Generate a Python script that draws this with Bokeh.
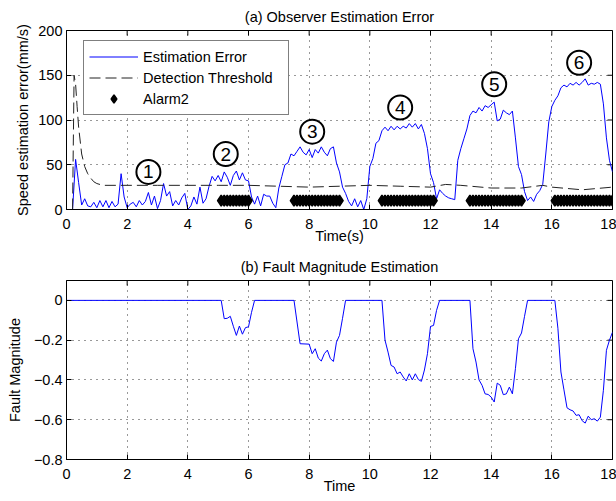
import numpy as np
from bokeh.plotting import figure
from bokeh.layouts import column
from bokeh.models import FixedTicker, CustomJSTickFormatter
from bokeh.embed import file_html
from bokeh.resources import INLINE
from bokeh.core.properties import value

FONT = "Liberation Sans"
FS = "14.5px"

# ---------------- data: (a) observer estimation error ----------------
err_t = [round(0.2 + 0.1 * i, 1) for i in range(179)]   # 0.2 .. 18.0 s sampling grid
err_v = [0, 56, 30, 5, 12, 4, 3, 8,
         2, 10, 3, 10, 2, 9, 3, 6, 40, 14,
         2, 6, 8, 3, 10, 5, 9, 19, 5, 15,
         1, 10, 29, 15, 20, 4, 10, 5, 13, 18,
         0, 4, 14, 6, 25, 7, 12, 26, 37, 32,
         38, 31, 42, 36, 27, 38, 43, 33, 41, 33,
         32, 14, 6, 15, 4, 17, 15, 15, 7, 2,
         24, 37, 50, 52, 62, 60, 65, 70, 64, 61,
         67, 58, 67, 63, 70, 64, 60, 68, 70, 52,
         42, 25, 18, 9, 4, 12, 3, 10, 0, 12,
         48, 57, 74, 77, 88, 92, 88, 93, 89, 93,
         90, 93, 91, 96, 92, 96, 90, 95, 85, 68,
         40, 30, 12, 22, 18, 15, 13, 12, 11, 55,
         68, 79, 90, 105, 110, 108, 114, 110, 116, 114,
         117, 120, 99, 101, 111, 108, 106, 110, 80, 48,
         39, 20, 10, 14, 9, 17, 21, 28, 62, 98,
         115, 122, 127, 136, 139, 137, 141, 139, 142, 139,
         142, 146, 139, 141, 140, 142, 140, 118, 80, 55,
         42]

thr_t = [0.2, 0.25, 0.3, 0.35, 0.4, 0.5, 0.6, 0.7, 0.8, 0.9, 1.0, 1.2, 1.5, 2.0, 3.0,
         4.0, 5.0, 6.0, 7.0, 8.0, 9.0, 10.0, 11.0, 12.0, 12.5, 13.0, 14.0, 15.0, 15.7,
         16.0, 17.0, 18.0]
thr_v = [0, 150, 140, 115, 92, 62, 48, 40, 35, 31, 29, 27, 27, 27, 27,
         27, 27, 27, 26, 25, 26, 27, 26, 25, 28, 27, 24, 24, 27,
         25, 22, 25]

alarm_t = ([round(5.1 + 0.1 * i, 1) for i in range(10)] +
           [round(7.5 + 0.1 * i, 1) for i in range(16)] +
           [round(10.4 + 0.1 * i, 1) for i in range(18)] +
           [round(13.3 + 0.1 * i, 1) for i in range(18)] +
           [round(16.1 + 0.1 * i, 1) for i in range(20)])
alarm_level = 10

ann_t = [2.7, 5.25, 8.1, 11.0, 14.1, 16.9]
ann_v = [42, 62, 87, 114, 140, 164]
ann_labels = ["1", "2", "3", "4", "5", "6"]

# ---------------- data: (b) fault magnitude estimation ----------------
fm_t = [0, 5.1, 5.2, 5.3, 5.4, 5.5, 5.6, 5.7, 5.8, 5.9, 6.0, 6.1, 6.2,
        7.5, 7.7, 8.0, 8.1, 8.2, 8.3, 8.4, 8.5, 8.6, 8.7, 8.8, 8.9, 9.0, 9.1, 9.2,
        10.4, 10.5, 10.6, 10.7, 10.8, 10.9, 11.0, 11.1, 11.2, 11.3, 11.4, 11.5, 11.6,
        11.7, 11.8, 11.9, 12.0, 12.1, 12.2, 12.3,
        13.3, 13.4, 13.5, 13.6, 13.7, 13.8, 13.9, 14.0, 14.1, 14.2, 14.3, 14.4, 14.5,
        14.6, 14.7, 14.8, 14.9, 15.0, 15.1, 15.2,
        16.1, 16.2, 16.3, 16.4, 16.5, 16.6, 16.7, 16.8, 16.9, 17.0, 17.1, 17.2, 17.3,
        17.4, 17.5, 17.6, 17.7, 17.8, 17.9, 18.0]
fm_v = [0, 0, -0.092, -0.09, -0.08, -0.13, -0.176, -0.129, -0.17, -0.137, -0.133, -0.06, 0,
        0, -0.218, -0.22, -0.268, -0.243, -0.29, -0.305, -0.268, -0.25, -0.293, -0.307,
        -0.21, -0.176, -0.09, 0,
        0, -0.2, -0.26, -0.327, -0.335, -0.369, -0.36, -0.385, -0.405, -0.369, -0.4,
        -0.369, -0.398, -0.407, -0.35, -0.268, -0.131, -0.126, -0.05, 0,
        0, -0.243, -0.31, -0.4, -0.427, -0.47, -0.473, -0.486, -0.511, -0.416, -0.427,
        -0.474, -0.47, -0.436, -0.47, -0.343, -0.193, -0.164, -0.08, 0,
        0, -0.14, -0.36, -0.45, -0.54, -0.55, -0.556, -0.578, -0.575, -0.605, -0.617,
        -0.582, -0.6, -0.595, -0.607, -0.587, -0.452, -0.251, -0.2, -0.16]

x_ticks = [0, 2, 4, 6, 8, 10, 12, 14, 16, 18]
y1_ticks = [0, 50, 100, 150, 200]
y2_ticks = [-0.8, -0.6, -0.4, -0.2, 0]


def style_axis(ax):
    ax.major_tick_in = 5
    ax.major_tick_out = 0
    ax.minor_tick_in = 0
    ax.minor_tick_out = 0
    ax.axis_line_color = "black"
    ax.major_tick_line_color = "black"
    ax.major_label_text_font = FONT
    ax.major_label_text_font_size = FS
    ax.major_label_text_color = "black"
    ax.axis_label_text_font = FONT
    ax.axis_label_text_font_size = FS
    ax.axis_label_text_font_style = "normal"
    ax.axis_label_text_color = "black"


def make_fig(height, yr, yticks, title, xlabel, ylabel, bottom):
    p = figure(width=616, height=height, x_range=(0, 18), y_range=yr,
               output_backend="svg", toolbar_location=None,
               min_border_left=66, min_border_right=4, min_border_top=30,
               min_border_bottom=bottom)
    p.title.text = title
    p.title.align = "center"
    p.title.text_font = FONT
    p.title.text_font_size = FS
    p.title.text_font_style = "normal"
    p.title.text_color = "black"
    p.title.standoff = 12
    p.outline_line_color = "black"
    p.outline_line_width = 1
    p.xaxis.ticker = FixedTicker(ticks=x_ticks)
    p.yaxis.ticker = FixedTicker(ticks=yticks)
    p.xgrid.ticker = FixedTicker(ticks=x_ticks)
    p.ygrid.ticker = FixedTicker(ticks=yticks)
    for g in (p.xgrid, p.ygrid):
        g.grid_line_color = "#333333"
        g.grid_line_dash = "1 5"
        g.grid_line_width = 1
    style_axis(p.xaxis[0])
    style_axis(p.yaxis[0])
    p.xaxis.axis_label = xlabel
    p.yaxis.axis_label = ylabel
    p.xaxis.major_label_standoff = 9
    p.yaxis.major_label_standoff = 4
    p.xaxis.axis_label_standoff = -4
    # inward tick marks on the top and right edges of the box
    p.ray(x=x_ticks, y=[yr[1]] * len(x_ticks), length=5, length_units="screen",
          angle=-np.pi / 2, line_color="black", line_width=1)
    p.ray(x=[18] * len(yticks), y=yticks, length=5, length_units="screen",
          angle=np.pi, line_color="black", line_width=1)
    return p


p1 = make_fig(250, (0, 200), y1_ticks, "(a) Observer Estimation Error", "Time(s)",
              "Speed estimation error(mm/s)", 41)
p1.yaxis[0].axis_label_standoff = 4

p1.line(err_t, err_v, line_color="#0000ff", line_width=1, legend_label="Estimation Error")
p1.line(thr_t, thr_v, line_color="#222222", line_width=1, line_dash="11 5",
        legend_label="Detection Threshold")
p1.scatter(alarm_t, [alarm_level] * len(alarm_t), marker="diamond", size=11,
           fill_color="black", line_color="black", line_width=1.5, legend_label="Alarm2")
p1.scatter(ann_t, ann_v, marker="circle", size=24, fill_color="white",
           line_color="black", line_width=2)
p1.text(ann_t, ann_v, text=ann_labels, text_align="center", text_baseline="middle",
        text_font=value(FONT), text_font_size="19px", text_color="black")

lg = p1.legend[0]
lg.location = (17, 94)
lg.margin = 0
lg.padding = 5
lg.spacing = 0
lg.glyph_width = 49
lg.glyph_height = 21
lg.label_height = 21
lg.label_width = 140
lg.label_standoff = 5
lg.label_text_font = FONT
lg.label_text_font_size = FS
lg.label_text_color = "black"
lg.border_line_color = "black"
lg.border_line_width = 1
lg.background_fill_color = "white"
lg.background_fill_alpha = 1

p2 = make_fig(251, (-0.8, 0.1), y2_ticks, "(b) Fault Magnitude Estimation", "Time",
              "Fault Magnitude", 42)
p2.yaxis[0].axis_label_standoff = 8
p2.yaxis[0].formatter = CustomJSTickFormatter(
    code="return tick == 0 ? '0' : (tick < 0 ? '\u2212' : '') + Math.abs(tick).toFixed(1);")
p2.line(fm_t, fm_v, line_color="#0000ff", line_width=1)

layout = column(p1, p2, spacing=0)
open("out.html", "w").write(file_html(layout, INLINE))
